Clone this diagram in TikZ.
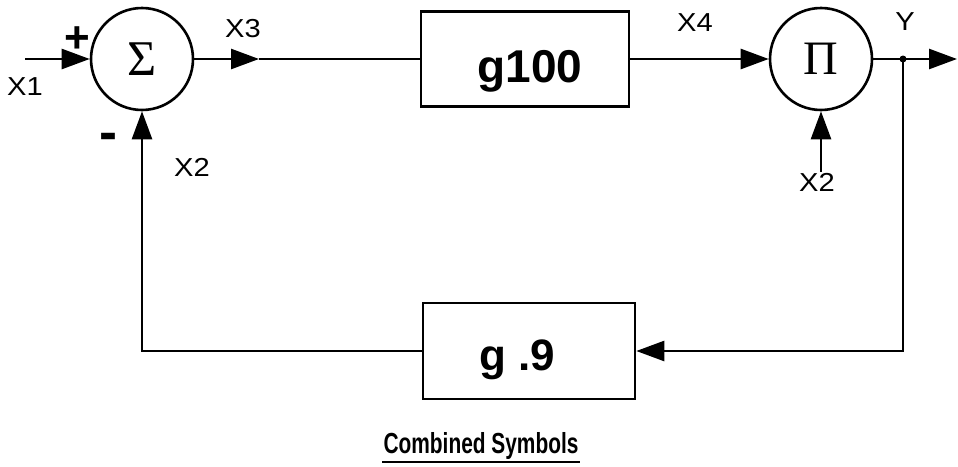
\documentclass[tikz,border=0pt]{standalone}
\usepackage{fontspec}
\setmainfont{Liberation Sans}
\newfontfamily\symfont{Liberation Serif}
\usetikzlibrary{arrows.meta}
\newcommand{\wide}[1]{\scalebox{1.12}[1]{#1}}
\begin{document}
\begin{tikzpicture}[x=1pt,y=-1pt,
  line width=2.6pt,
  op/.style={draw,circle,minimum size=102pt,inner sep=0pt,font=\symfont\fontsize{#1}{#1}\selectfont},
  blk/.style={draw,rectangle,inner sep=0pt},
  blktext/.style={anchor=base,inner sep=0pt,font=\bfseries\fontsize{#1}{#1}\selectfont},
  lbl/.style={inner sep=0pt,font=\fontsize{26}{26}\selectfont},
  sgn/.style={inner sep=0pt,font=\bfseries\fontsize{#1}{#1}\selectfont},
  arr/.style={-{Triangle[length=28pt,width=20pt]}},
]
\useasboundingbox (0,0) rectangle (958,466);

% operators and blocks
\node[op=50] (s) at (142,59) {Σ};
\node[op=48] (p) at (821,59) {Π};
\node[blk,minimum width=208pt,minimum height=95pt] (g1) at (525,59) {};
\node[blktext=46] (g1t) at (530,82) {g100};
\node[blk,minimum width=212pt,minimum height=96pt] (g9) at (529,351) {};
\node[blktext=44] (g9t) at (517,370) {g .9};

% helper coordinates
\coordinate (x1s) at (25,59);
\coordinate (m3) at (259,59);
\coordinate (yout) at (957,59);
\coordinate (j) at (903,59);
\coordinate (x2s) at (821,172);

% connectors
\draw[arr] (x1s) -- (s.west);
\draw[arr] (s.east) -- (m3);
\draw (m3) -- (g1.west);
\draw[arr] (g1.east) -- (p.west);
\draw[arr] (p.east) -- (yout);
\fill (j) circle (3.5pt);
\draw[arr] (j) |- (g9.east);
\draw[arr] (g9.west) -| (s.south);
\draw[arr] (x2s) -- (p.south);

% labels
\node[lbl] (lx1) at (25,87) {\wide{X1}};
\node[lbl] (lx2a) at (192,167) {\wide{X2}};
\node[lbl] (lx3) at (243,29) {\wide{X3}};
\node[lbl] (lx4) at (695,23) {\wide{X4}};
\node[lbl] (ly) at (905,22) {\wide{Y}};
\node[lbl] (lx2b) at (817,182) {\wide{X2}};
\node[sgn=44] (plus) at (77,40) {+};
\node[sgn=54] (minus) at (108,142) {-};

% caption
\node[anchor=base,inner sep=0pt,font=\bfseries\fontsize{29}{29}\selectfont] (cap) at (481,453) {\scalebox{0.72}[1]{Combined Symbols}};
\draw[line width=2pt] ([yshift=-9pt]cap.base west) -- ([yshift=-9pt]cap.base east);
\end{tikzpicture}
\end{document}
